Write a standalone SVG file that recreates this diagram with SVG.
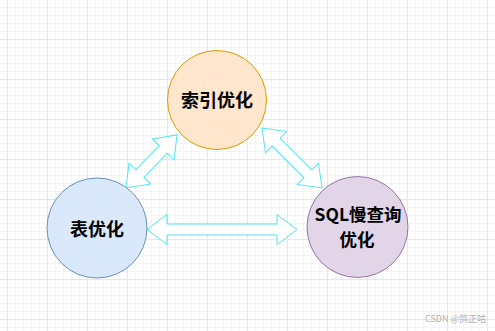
<svg xmlns="http://www.w3.org/2000/svg" width="495" height="331" viewBox="0 0 495 331">
<defs>
<pattern id="grid" x="7" y="-1" width="40" height="40" patternUnits="userSpaceOnUse">
<path d="M8.5,0V40M16.5,0V40M24.5,0V40M32.5,0V40M0,8.5H40M0,16.5H40M0,24.5H40M0,32.5H40" stroke="#f4f4f4" stroke-width="1" fill="none"/>
<path d="M0.5,0V40M0,0.5H40" stroke="#e6e6e6" stroke-width="1" fill="none"/>
</pattern>
<style>
.node circle{stroke-width:1}
.lbl{font-family:"Noto Sans CJK SC","Liberation Sans",sans-serif;font-weight:bold;fill:#000;text-anchor:middle;dominant-baseline:central}
.arrow{fill:#fff;stroke:#4ee6f0;stroke-width:1;stroke-linejoin:miter}
</style>
</defs>
<rect width="495" height="331" fill="#fff"/>
<rect width="495" height="331" fill="url(#grid)"/>
<g id="connectors">
<path class="arrow" transform="translate(147,229.5)" d="M0,0L20,-15L20,-5.5L130,-5.5L130,-15L150,0L130,15L130,5.5L20,5.5L20,15Z"/>
<path class="arrow" transform="translate(126,188) rotate(-46.1)" d="M0,0L20,-15L20,-5.5L53.6,-5.5L53.6,-15L73.6,0L53.6,15L53.6,5.5L20,5.5L20,15Z"/>
<path class="arrow" transform="translate(262,128) rotate(45)" d="M0,0L20,-15L20,-5.5L64.9,-5.5L64.9,-15L84.9,0L64.9,15L64.9,5.5L20,5.5L20,15Z"/>
</g>
<g id="node-index" class="node">
<circle cx="217" cy="100" r="49.5" fill="#ffe6cc" stroke="#d79b00"/>
<text class="lbl" x="217" y="99" font-size="18">索引优化</text>
</g>
<g id="node-table" class="node">
<circle cx="97" cy="228" r="50" fill="#dae8fc" stroke="#6c8ebf"/>
<text class="lbl" x="97" y="228" font-size="18">表优化</text>
</g>
<g id="node-sql" class="node">
<circle cx="357.5" cy="227" r="50.5" fill="#e1d5e7" stroke="#9673a6"/>
<text class="lbl" font-size="17.5"><tspan x="358" y="212.5">SQL慢查询</tspan><tspan x="357" y="238">优化</tspan></text>
</g>
<text x="486" y="318" font-family="Noto Sans CJK SC,Liberation Sans,sans-serif" font-size="9" fill="#b0b0b0" text-anchor="end" dominant-baseline="central">CSDN @鸽正咕</text>
</svg>
